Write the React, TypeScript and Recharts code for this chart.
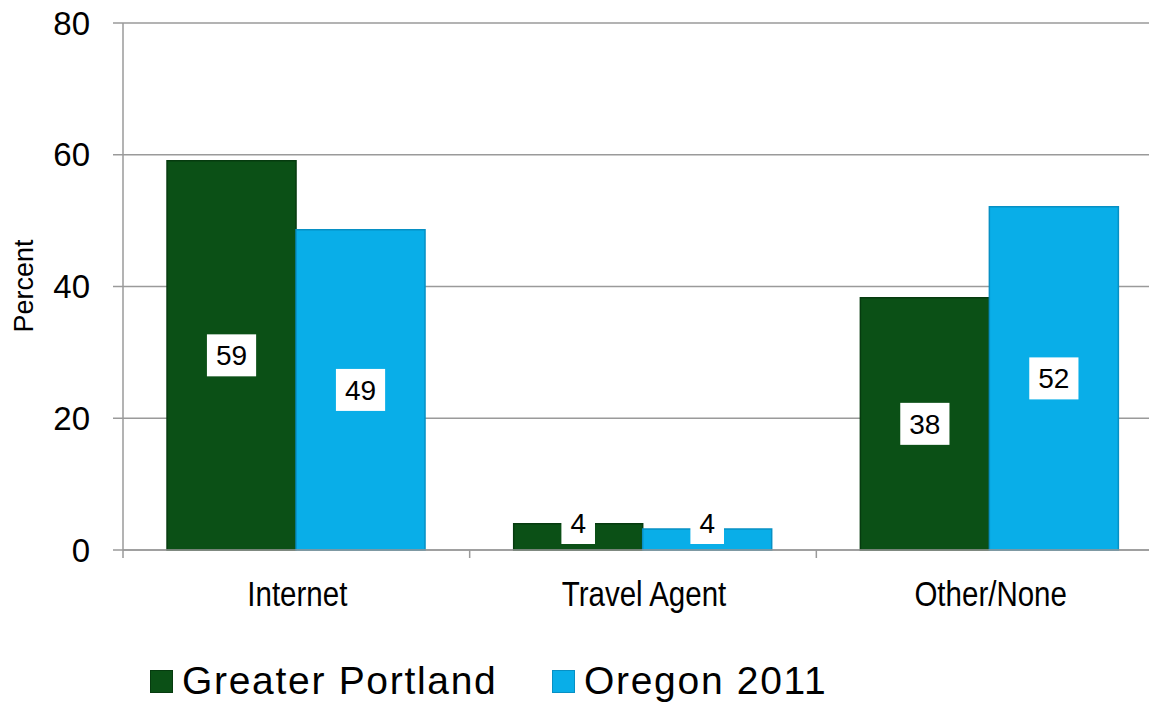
import { Bar, BarChart, CartesianGrid, LabelList, XAxis, YAxis } from "recharts";

const categories = ["Internet", "Travel Agent", "Other/None"];
const seriesNames = ["Greater Portland", "Oregon 2011"];
const portlandValues = [59.1, 4.0, 38.3];
const oregonValues = [48.6, 3.2, 52.1];
const portlandLabels = ["59", "4", "38"];
const oregonLabels = ["49", "4", "52"];
const yTicks = [0, 20, 40, 60, 80];

const GREEN = "#0b5016";
const GREEN_EDGE = "#063b0f";
const BLUE = "#09aee8";
const BLUE_EDGE = "#0790c4";
const AXIS = "#9a9a9a";
const FONT = "'Liberation Sans', Arial, sans-serif";

const CHART_W = 1180;
const CHART_H = 703;
const MARGIN = { top: 23, right: 17, bottom: 93, left: 0 };
const Y_AXIS_W = 123;
const BAND = (CHART_W - MARGIN.left - MARGIN.right - Y_AXIS_W) / categories.length;

const rows = categories.map((name, i) => ({
  name,
  portland: portlandValues[i],
  oregon: oregonValues[i],
  portlandLabel: portlandLabels[i],
  oregonLabel: oregonLabels[i]
}));

function CategoryTick(props: any) {
  const { x, y, payload } = props;
  const edge = x - BAND / 2;
  return (
    <g>
      <line x1={edge} y1={y} x2={edge} y2={y + 8} stroke={AXIS} strokeWidth={1.5} />
      <g transform={`translate(${x + 1},${y + 56}) scale(0.82,1)`}>
        <text x={0} y={0} textAnchor="middle" fontFamily={FONT} fontSize={36} fill="#000">
          {payload.value}
        </text>
      </g>
    </g>
  );
}

function ValueLabel(props: any) {
  const { x, y, width, height, value } = props;
  const text = String(value);
  const boxW = text.length * 15.6 + 18;
  const boxH = 42;
  const cx = x + width / 2;
  const cy = Math.min(y + height / 2, y + height - 27);
  return (
    <g>
      <rect x={cx - boxW / 2} y={cy - boxH / 2} width={boxW} height={boxH} fill="#fff" />
      <text x={cx} y={cy + 10} textAnchor="middle" fontFamily={FONT} fontSize={28} fill="#000">
        {text}
      </text>
    </g>
  );
}

function PercentLabel() {
  return (
    <text
      x={33}
      y={286}
      transform="rotate(-90 33 286)"
      textAnchor="middle"
      fontFamily={FONT}
      fontSize={27}
      fill="#000"
    >
      Percent
    </text>
  );
}

export default function App() {
  const legendColors = [
    { fill: GREEN, edge: GREEN_EDGE, left: 150 },
    { fill: BLUE, edge: BLUE_EDGE, left: 552 }
  ];

  return (
    <div
      style={{
        position: "absolute",
        left: 0,
        top: 0,
        width: 1149,
        height: 703,
        overflow: "hidden",
        background: "#fff"
      }}
    >
      <BarChart
        width={CHART_W}
        height={CHART_H}
        data={rows}
        margin={MARGIN}
        barCategoryGap="12.7%"
        barGap={0}
      >
        <CartesianGrid vertical={false} stroke={AXIS} strokeWidth={1.5} />
        <XAxis
          dataKey="name"
          height={60}
          axisLine={{ stroke: AXIS, strokeWidth: 1.5 }}
          tickLine={false}
          tickSize={0}
          tickMargin={0}
          tick={<CategoryTick />}
          interval={0}
        />
        <YAxis
          width={Y_AXIS_W}
          domain={[0, 80]}
          ticks={yTicks}
          axisLine={{ stroke: AXIS, strokeWidth: 1.5 }}
          tickLine={{ stroke: AXIS, strokeWidth: 1.5 }}
          tickSize={10}
          tickMargin={23}
          tick={{ fontFamily: FONT, fontSize: 33, fill: "#000" }}
          label={<PercentLabel />}
        />
        <Bar dataKey="portland" fill={GREEN} stroke={GREEN_EDGE} strokeWidth={1.5} isAnimationActive={false}>
          <LabelList dataKey="portlandLabel" content={<ValueLabel />} />
        </Bar>
        <Bar dataKey="oregon" fill={BLUE} stroke={BLUE_EDGE} strokeWidth={1.5} isAnimationActive={false}>
          <LabelList dataKey="oregonLabel" content={<ValueLabel />} />
        </Bar>
      </BarChart>

      {seriesNames.map((name, i) => (
        <div
          key={name}
          style={{
            position: "absolute",
            left: legendColors[i].left,
            top: 661,
            height: 40,
            display: "flex",
            alignItems: "center",
            fontFamily: FONT,
            fontSize: 39,
            lineHeight: "40px",
            letterSpacing: "1.7px",
            color: "#000",
            whiteSpace: "nowrap"
          }}
        >
          <span
            style={{
              display: "inline-block",
              width: 21,
              height: 21,
              background: legendColors[i].fill,
              border: `1px solid ${legendColors[i].edge}`,
              marginRight: 9
            }}
          />
          <span>{name}</span>
        </div>
      ))}
    </div>
  );
}
